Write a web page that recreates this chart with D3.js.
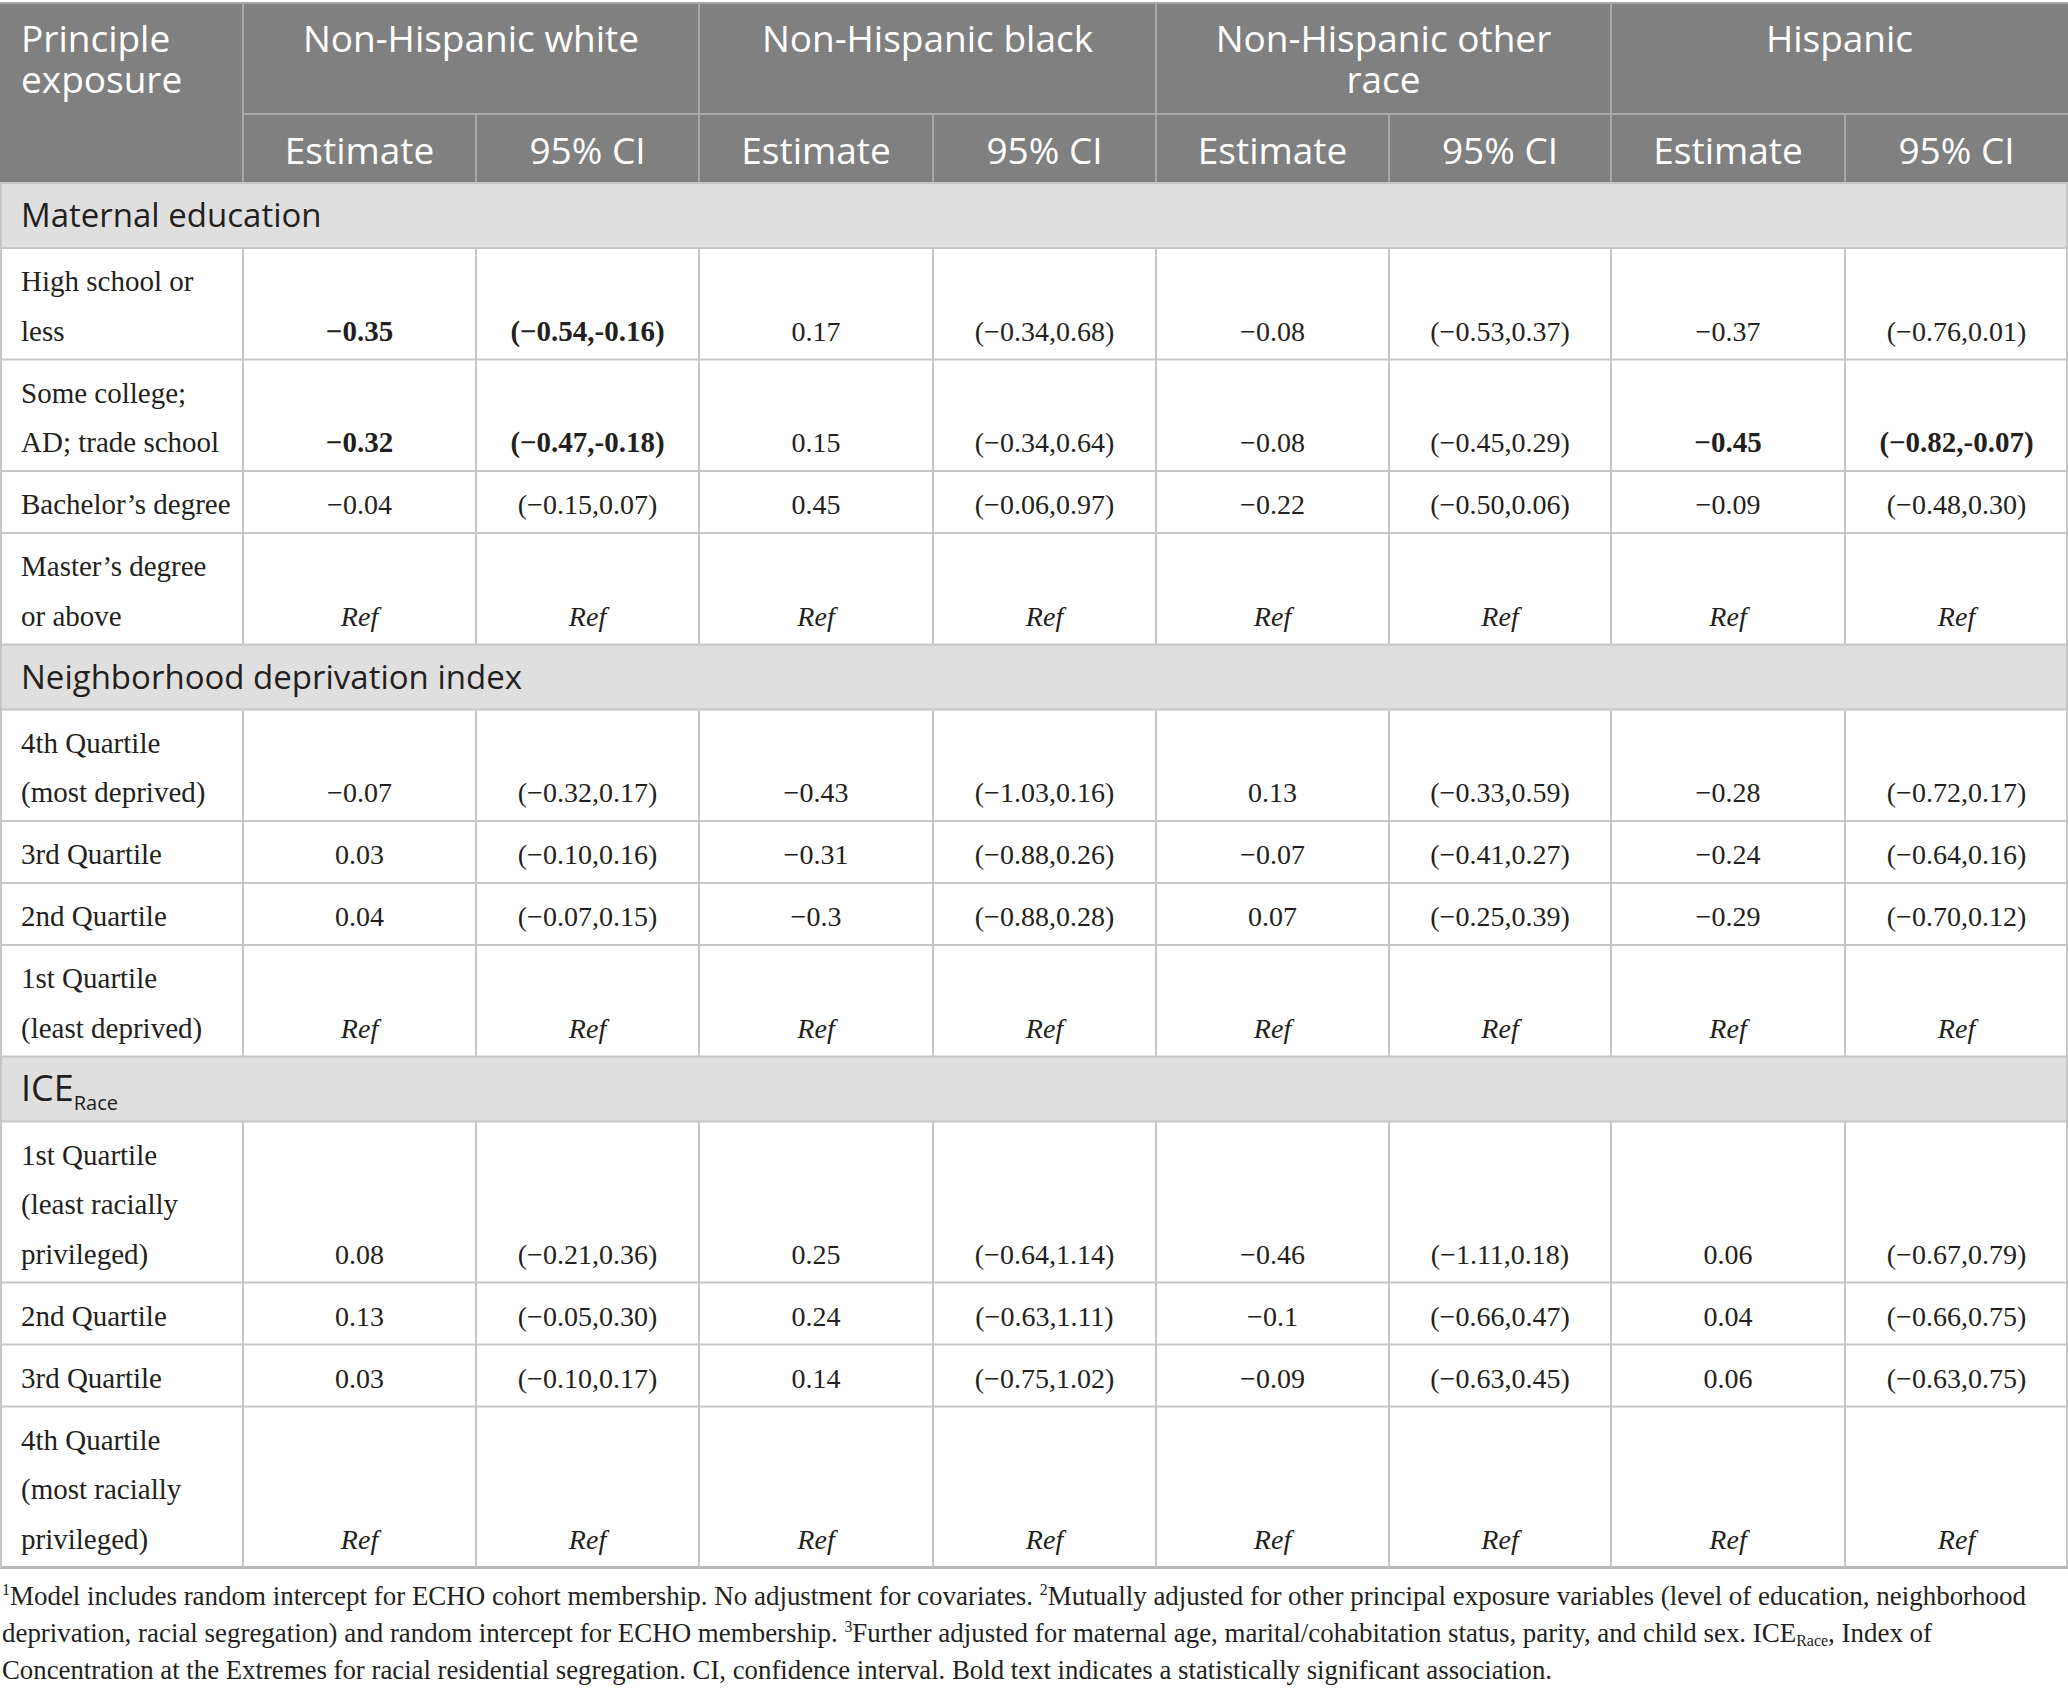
<!DOCTYPE html>
<html>
<head>
<meta charset="utf-8">
<script src="https://cdn.jsdelivr.net/npm/d3@7"></script>
<style>
  body { margin: 0; background: #fff; }
</style>
</head>
<body>
<div id="chart"></div>
<script>
// Table content
const groups = ["Non-Hispanic white", "Non-Hispanic black", "Non-Hispanic other|race", "Hispanic"];
const subHeaders = ["Estimate", "95% CI"];
const sections = ["Maternal education", "Neighborhood deprivation index", "ICE"];
const rowLabels = [
    ["High school or|less", "Some college;|AD; trade school", "Bachelor\u2019s degree", "Master\u2019s degree|or above"],
    ["4th Quartile|(most deprived)", "3rd Quartile", "2nd Quartile", "1st Quartile|(least deprived)"],
    ["1st Quartile|(least racially|privileged)", "2nd Quartile", "3rd Quartile", "4th Quartile|(most racially|privileged)"]
];

const estWhite = ["\u22120.35", "\u22120.32", "\u22120.04", "Ref", "\u22120.07", "0.03", "0.04", "Ref", "0.08", "0.13", "0.03", "Ref"];
const ciWhite = ["(\u22120.54,-0.16)", "(\u22120.47,-0.18)", "(\u22120.15,0.07)", "Ref", "(\u22120.32,0.17)", "(\u22120.10,0.16)", "(\u22120.07,0.15)", "Ref", "(\u22120.21,0.36)", "(\u22120.05,0.30)", "(\u22120.10,0.17)", "Ref"];
const estBlack = ["0.17", "0.15", "0.45", "Ref", "\u22120.43", "\u22120.31", "\u22120.3", "Ref", "0.25", "0.24", "0.14", "Ref"];
const ciBlack = ["(\u22120.34,0.68)", "(\u22120.34,0.64)", "(\u22120.06,0.97)", "Ref", "(\u22121.03,0.16)", "(\u22120.88,0.26)", "(\u22120.88,0.28)", "Ref", "(\u22120.64,1.14)", "(\u22120.63,1.11)", "(\u22120.75,1.02)", "Ref"];
const estOther = ["\u22120.08", "\u22120.08", "\u22120.22", "Ref", "0.13", "\u22120.07", "0.07", "Ref", "\u22120.46", "\u22120.1", "\u22120.09", "Ref"];
const ciOther = ["(\u22120.53,0.37)", "(\u22120.45,0.29)", "(\u22120.50,0.06)", "Ref", "(\u22120.33,0.59)", "(\u22120.41,0.27)", "(\u22120.25,0.39)", "Ref", "(\u22121.11,0.18)", "(\u22120.66,0.47)", "(\u22120.63,0.45)", "Ref"];
const estHisp = ["\u22120.37", "\u22120.45", "\u22120.09", "Ref", "\u22120.28", "\u22120.24", "\u22120.29", "Ref", "0.06", "0.04", "0.06", "Ref"];
const ciHisp = ["(\u22120.76,0.01)", "(\u22120.82,-0.07)", "(\u22120.48,0.30)", "Ref", "(\u22120.72,0.17)", "(\u22120.64,0.16)", "(\u22120.70,0.12)", "Ref", "(\u22120.67,0.79)", "(\u22120.66,0.75)", "(\u22120.63,0.75)", "Ref"];

// statistically significant cells: [row, column]
const boldCells = [[0, 0], [0, 1], [1, 0], [1, 1], [1, 6], [1, 7]];

const footnotes = [
    [["sup", "1"], ["", "Model includes random intercept for ECHO cohort membership. No adjustment for covariates. "], ["sup", "2"], ["", "Mutually adjusted for other principal exposure variables (level of education, neighborhood"]],
    [["", "deprivation, racial segregation) and random intercept for ECHO membership. "], ["sup", "3"], ["", "Further adjusted for maternal age, marital/cohabitation status, parity, and child sex. ICE"], ["sub", "Race"], ["", ", Index of"]],
    [["", "Concentration at the Extremes for racial residential segregation. CI, confidence interval. Bold text indicates a statistically significant association."]]
];

// Layout
const width = 2068, height = 1695;
const colWidths = [243, 233, 223, 234, 223, 233, 222, 234, 223];
const colEdges = [0, ...d3.cumsum(colWidths)];
const colX = d3.scaleOrdinal().domain(d3.range(10)).range(colEdges);
const colMid = i => (colX(i) + colX(i + 1)) / 2;

const headTop = 3, headMid = 114, headBottom = 183;
const sectionH = 65, firstBase = 43, lineGap = 49.5, bottomPad = 19;
const sansFont = "'Open Sans', 'Noto Sans', sans-serif";
const serifFont = "'Liberation Serif', 'DejaVu Serif', serif";
const textColor = "#231f20";
const gridColor = "#c6c6c6";

const valueCols = [estWhite, ciWhite, estBlack, ciBlack, estOther, ciOther, estHisp, ciHisp];
const isBold = (r, c) => boldCells.some(d => d[0] === r && d[1] === c);

// build row list
const rows = [];
let yPos = headBottom, dataIndex = 0;
sections.forEach((s, si) => {
    rows.push({ type: "section", label: s, y0: yPos, y1: yPos + sectionH });
    yPos += sectionH;
    rowLabels[si].forEach(lbl => {
        const lines = lbl.split("|");
        const h = firstBase + lineGap * (lines.length - 1) + bottomPad;
        rows.push({ type: "data", lines, index: dataIndex++, y0: yPos, y1: yPos + h });
        yPos += h;
    });
});
const tableBottom = yPos;

const svg = d3.select("#chart").append("svg")
    .attr("width", width)
    .attr("height", height)
    .style("display", "block");

// header block
svg.append("rect")
    .attr("x", 0).attr("y", headTop)
    .attr("width", width).attr("height", headBottom - headTop)
    .attr("fill", "#7f807f");

const headLines = svg.append("g").attr("stroke", "#a7a8a7").attr("stroke-width", 2);
headLines.append("line").attr("x1", 0).attr("x2", width).attr("y1", headTop).attr("y2", headTop);
headLines.append("line").attr("x1", colX(1)).attr("x2", width).attr("y1", headMid).attr("y2", headMid);
d3.range(1, 9).forEach(i => {
    headLines.append("line")
        .attr("x1", colX(i)).attr("x2", colX(i))
        .attr("y1", i % 2 === 1 ? headTop : headMid).attr("y2", headBottom);
});

const headText = svg.append("g")
    .attr("font-family", sansFont)
    .attr("font-size", 37)
    .attr("fill", "#ffffff");

headText.append("text")
    .attr("x", 21).attr("y", 52)
    .selectAll("tspan").data(["Principle", "exposure"]).join("tspan")
    .attr("x", 21).attr("dy", (d, i) => i === 0 ? 0 : 41)
    .text(d => d);

groups.forEach((g, gi) => {
    const cx = (colX(1 + gi * 2) + colX(3 + gi * 2)) / 2;
    headText.append("text")
        .attr("y", 52)
        .attr("text-anchor", "middle")
        .selectAll("tspan").data(g.split("|")).join("tspan")
        .attr("x", cx).attr("dy", (d, i) => i === 0 ? 0 : 41)
        .text(d => d);
    subHeaders.forEach((s, si) => {
        headText.append("text")
            .attr("x", colMid(1 + gi * 2 + si))
            .attr("y", 164)
            .attr("text-anchor", "middle")
            .text(s);
    });
});

// section bands
const sectionRows = rows.filter(r => r.type === "section");
svg.append("g").selectAll("rect").data(sectionRows).join("rect")
    .attr("x", 0).attr("y", d => d.y0)
    .attr("width", width).attr("height", sectionH)
    .attr("fill", "#e0dfe0");

const secText = svg.append("g").selectAll("text").data(sectionRows).join("text")
    .attr("x", 21).attr("y", d => d.y0 + 44)
    .attr("font-family", sansFont)
    .attr("font-size", 33)
    .attr("fill", textColor)
    .text(d => d.label);
secText.filter(d => d.label === "ICE").attr("font-size", 36).append("tspan")
    .attr("font-size", 20).attr("dy", 9)
    .text("Race");

// grid lines
const grid = svg.append("g").attr("stroke", gridColor).attr("stroke-width", 2);
rows.forEach(r => {
    grid.append("line").attr("x1", 0).attr("x2", width).attr("y1", r.y0).attr("y2", r.y0);
});
grid.append("line").attr("x1", 0).attr("x2", width).attr("y1", tableBottom).attr("y2", tableBottom)
    .attr("stroke", "#b8b8b8").attr("stroke-width", 3);
const dataRows = rows.filter(r => r.type === "data");
dataRows.forEach(r => {
    d3.range(0, 10).forEach(i => {
        const xv = i === 0 ? 1 : (i === 9 ? width - 1 : colX(i));
        grid.append("line").attr("x1", xv).attr("x2", xv).attr("y1", r.y0).attr("y2", r.y1);
    });
});
sectionRows.forEach(r => {
    [1, width - 1].forEach(xv => grid.append("line").attr("x1", xv).attr("x2", xv).attr("y1", r.y0).attr("y2", r.y1));
});

// row labels
const body = svg.append("g")
    .attr("font-family", serifFont)
    .attr("font-size", 29)
    .attr("fill", textColor);

body.selectAll("text.label").data(dataRows).join("text")
    .attr("class", "label")
    .attr("y", d => d.y0 + firstBase)
    .selectAll("tspan").data(d => d.lines).join("tspan")
    .attr("x", 21).attr("dy", (d, i) => i === 0 ? 0 : lineGap)
    .text(d => d);

// values
dataRows.forEach(r => {
    const baseY = r.y0 + firstBase + lineGap * (r.lines.length - 1);
    valueCols.forEach((col, ci) => {
        const v = col[r.index];
        const bold = isBold(r.index, ci);
        body.append("text")
            .attr("x", colMid(ci + 1))
            .attr("y", baseY)
            .attr("text-anchor", "middle")
            .attr("font-size", bold ? 29 : 28)
            .attr("font-weight", bold ? "bold" : null)
            .attr("font-style", v === "Ref" ? "italic" : null)
            .text(v);
    });
});

// footnotes
const footBase = [1605, 1642, 1679];
const footWidth = [2024, 1930, 1550];
const foot = svg.append("g")
    .attr("font-family", serifFont)
    .attr("font-size", 27)
    .attr("fill", textColor);

footnotes.forEach((parts, li) => {
    const t = foot.append("text")
        .attr("x", 2).attr("y", footBase[li])
        .attr("textLength", footWidth[li])
        .attr("lengthAdjust", "spacingAndGlyphs");
    let shift = 0;
    parts.forEach(([kind, str]) => {
        const target = kind === "sup" ? -10 : (kind === "sub" ? 4 : 0);
        t.append("tspan")
            .attr("dy", target - shift)
            .attr("font-size", kind === "" ? null : 16)
            .text(str);
        shift = target;
    });
});
</script>
</body>
</html>
